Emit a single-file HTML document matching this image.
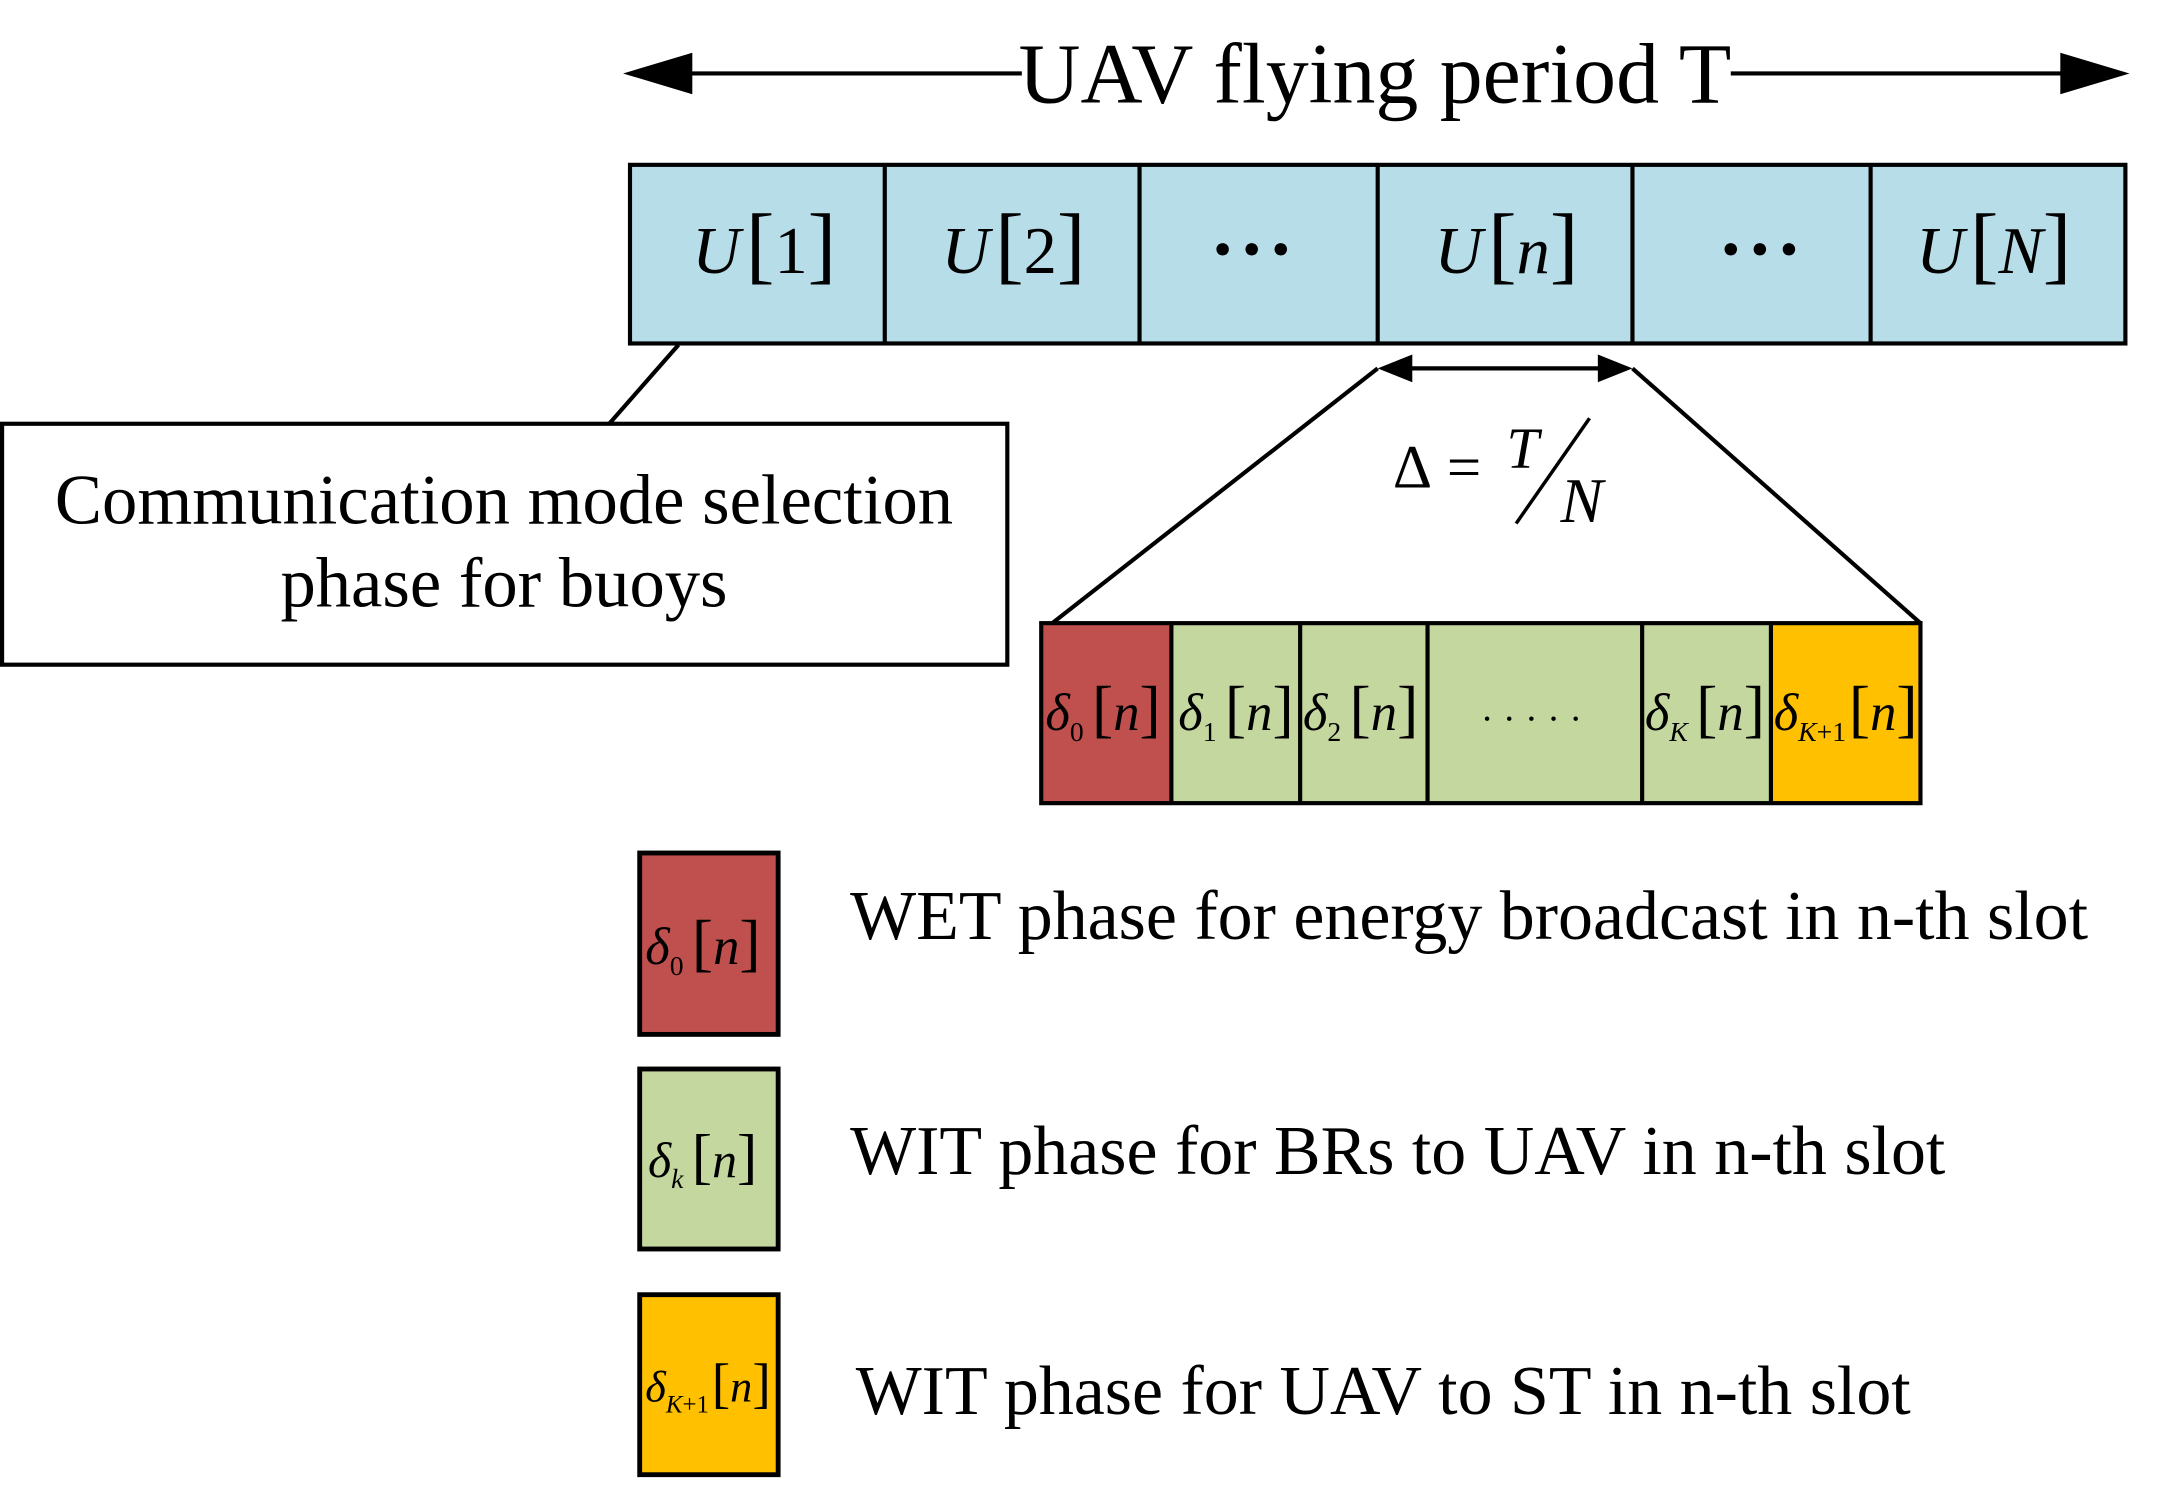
<!DOCTYPE html>
<html><head><meta charset="utf-8"><style>
html,body{margin:0;padding:0;background:#fff;}
svg{display:block;}
text{font-family:"Liberation Serif",serif;fill:#000;}
.i{font-style:italic;}
</style></head><body>
<svg width="2160" height="1508" viewBox="0 0 1560 1089" xmlns="http://www.w3.org/2000/svg">
<!-- top arrow -->
<line x1="490" y1="53" x2="738" y2="53" stroke="#000" stroke-width="3"/>
<line x1="1250" y1="53" x2="1500" y2="53" stroke="#000" stroke-width="3"/>
<path d="M450,53 L500,38 L500,68 z" fill="#000"/>
<path d="M1538,53 L1488,38 L1488,68 z" fill="#000"/>
<text x="993" y="74" font-size="62" text-anchor="middle">UAV flying period T</text>
<!-- top bar -->
<rect x="455" y="119" width="1080" height="129" fill="#b7dde8" stroke="#000" stroke-width="3"/>
<g stroke="#000" stroke-width="3">
<line x1="639" y1="119" x2="639" y2="248"/><line x1="823" y1="119" x2="823" y2="248"/>
<line x1="995" y1="119" x2="995" y2="248"/><line x1="1179" y1="119" x2="1179" y2="248"/>
<line x1="1351" y1="119" x2="1351" y2="248"/>
</g>
<g font-size="48">
<text x="500" y="197"><tspan class="i">U</tspan><tspan font-size="62" dx="4">[</tspan><tspan>1</tspan><tspan font-size="62">]</tspan></text>
<text x="680" y="197"><tspan class="i">U</tspan><tspan font-size="62" dx="4">[</tspan><tspan>2</tspan><tspan font-size="62">]</tspan></text>
<text x="1036" y="197"><tspan class="i">U</tspan><tspan font-size="62" dx="4">[</tspan><tspan class="i">n</tspan><tspan font-size="62">]</tspan></text>
<text x="1384" y="197"><tspan class="i">U</tspan><tspan font-size="62" dx="4">[</tspan><tspan class="i">N</tspan><tspan font-size="62">]</tspan></text>
</g>
<g fill="#000"><circle cx="883" cy="180" r="4.5"/><circle cx="904" cy="180" r="4.5"/><circle cx="925" cy="180" r="4.5"/>
<circle cx="1250" cy="180" r="4.5"/><circle cx="1271" cy="180" r="4.5"/><circle cx="1292" cy="180" r="4.5"/></g>
<!-- callout -->
<line x1="490" y1="249" x2="440" y2="306" stroke="#000" stroke-width="3"/>
<rect x="1.5" y="306" width="726" height="174" fill="#fff" stroke="#000" stroke-width="3"/>
<text x="364" y="378" font-size="51" text-anchor="middle">Communication mode selection</text>
<text x="364" y="438" font-size="51" text-anchor="middle">phase for buoys</text>
<!-- delta arrow -->
<line x1="1010" y1="266" x2="1164" y2="266" stroke="#000" stroke-width="3"/>
<path d="M995,266 L1020,256 L1020,276 z" fill="#000"/>
<path d="M1179,266 L1154,256 L1154,276 z" fill="#000"/>
<line x1="995" y1="266" x2="760" y2="450" stroke="#000" stroke-width="3"/>
<line x1="1179" y1="266" x2="1387" y2="450" stroke="#000" stroke-width="3"/>
<text x="1006" y="352" font-size="44">Δ</text>
<text x="1045" y="352" font-size="44">=</text>
<text x="1088" y="338" font-size="42" class="i">T</text>
<line x1="1148" y1="302" x2="1095" y2="378" stroke="#000" stroke-width="2.5"/>
<text x="1127" y="377" font-size="46" class="i">N</text>
<!-- bottom bar -->
<rect x="752" y="450" width="94" height="130" fill="#c0504d"/>
<rect x="846" y="450" width="433" height="130" fill="#c4d79f"/>
<rect x="1279" y="450" width="108" height="130" fill="#ffc000"/>
<rect x="752" y="450" width="635" height="130" fill="none" stroke="#000" stroke-width="3"/>
<g stroke="#000" stroke-width="3">
<line x1="846" y1="450" x2="846" y2="580"/><line x1="939" y1="450" x2="939" y2="580"/>
<line x1="1031" y1="450" x2="1031" y2="580"/><line x1="1186" y1="450" x2="1186" y2="580"/>
<line x1="1279" y1="450" x2="1279" y2="580"/>
</g>
<g font-size="38">
<text x="755" y="527"><tspan class="i">δ</tspan><tspan font-size="20" dy="8">0</tspan><tspan dy="-8" dx="6" font-size="46">[</tspan><tspan class="i">n</tspan><tspan font-size="46">]</tspan></text>
<text x="851" y="527"><tspan class="i">δ</tspan><tspan font-size="20" dy="8">1</tspan><tspan dy="-8" dx="6" font-size="46">[</tspan><tspan class="i">n</tspan><tspan font-size="46">]</tspan></text>
<text x="941" y="527"><tspan class="i">δ</tspan><tspan font-size="20" dy="8">2</tspan><tspan dy="-8" dx="6" font-size="46">[</tspan><tspan class="i">n</tspan><tspan font-size="46">]</tspan></text>
<text x="1188" y="527"><tspan class="i">δ</tspan><tspan font-size="20" dy="8" class="i">K</tspan><tspan dy="-8" dx="6" font-size="46">[</tspan><tspan class="i">n</tspan><tspan font-size="46">]</tspan></text>
<text x="1281" y="527"><tspan class="i">δ</tspan><tspan font-size="20" dy="8"><tspan class="i">K</tspan>+1</tspan><tspan dy="-8" dx="2" font-size="46">[</tspan><tspan class="i">n</tspan><tspan font-size="46">]</tspan></text>
</g>
<g fill="#000"><circle cx="1074" cy="519" r="1.6"/><circle cx="1090" cy="519" r="1.6"/><circle cx="1106" cy="519" r="1.6"/><circle cx="1122" cy="519" r="1.6"/><circle cx="1138" cy="519" r="1.6"/></g>
<!-- legend -->
<rect x="462" y="616" width="100" height="131" fill="#c0504d" stroke="#000" stroke-width="3.5"/>
<rect x="462" y="772" width="100" height="130" fill="#c4d79f" stroke="#000" stroke-width="3.5"/>
<rect x="462" y="935" width="100" height="130" fill="#ffc000" stroke="#000" stroke-width="3.5"/>
<text x="466" y="696" font-size="38"><tspan class="i">δ</tspan><tspan font-size="20" dy="8">0</tspan><tspan dy="-8" dx="6" font-size="46">[</tspan><tspan class="i">n</tspan><tspan font-size="46">]</tspan></text>
<text x="468" y="850" font-size="36"><tspan class="i">δ</tspan><tspan font-size="20" dy="8" class="i">k</tspan><tspan dy="-8" dx="6" font-size="44">[</tspan><tspan class="i">n</tspan><tspan font-size="44">]</tspan></text>
<text x="466" y="1012" font-size="32"><tspan class="i">δ</tspan><tspan font-size="18" dy="8"><tspan class="i">K</tspan>+1</tspan><tspan dy="-8" dx="2" font-size="40">[</tspan><tspan class="i">n</tspan><tspan font-size="40">]</tspan></text>
<text x="614" y="678" font-size="50.5">WET phase for energy broadcast in n-th slot</text>
<text x="614" y="848" font-size="50.5">WIT phase for BRs to UAV in n-th slot</text>
<text x="618" y="1021" font-size="50.5">WIT phase for UAV to ST in n-th slot</text>
</svg>
</body></html>
